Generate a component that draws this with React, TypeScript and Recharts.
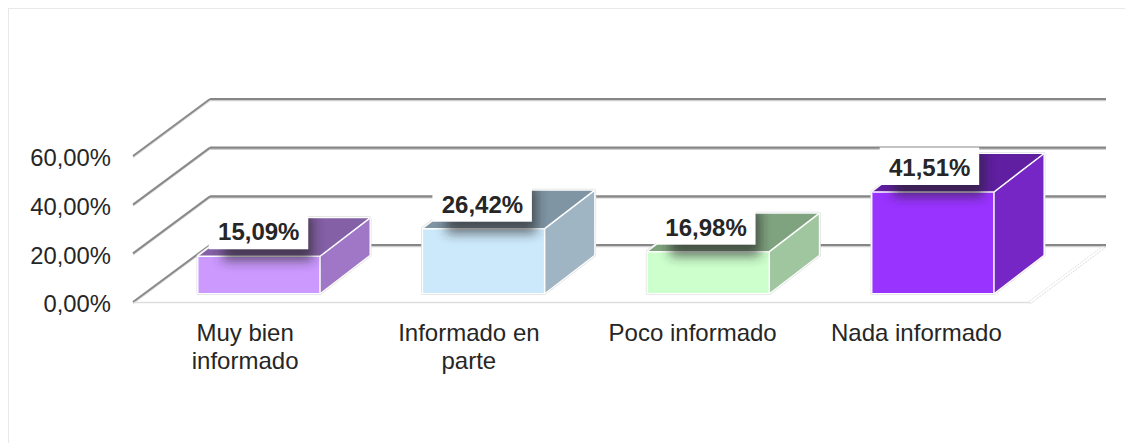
import React from "react";
import { BarChart, Bar, XAxis, YAxis, CartesianGrid, LabelList } from "recharts";

const categories = ["Muy bien informado", "Informado en parte", "Poco informado", "Nada informado"];
const categoryLines = [["Muy bien", "informado"], ["Informado en", "parte"], ["Poco informado"], ["Nada informado"]];
const values = [15.09, 26.42, 16.98, 41.51];
const yTicks = [0, 20, 40, 60];
const frontColors = ["#CC99FF", "#CCE9FB", "#CCFFCC", "#9933FF"];
const sideColors = ["#9F77C6", "#9FB5C4", "#9FC69F", "#7726C6"];
const topColors = ["#8460A6", "#7F95A4", "#7FA37F", "#5F1FA0"];

const data = categories.map((name, i) => ({ name, value: values[i], index: i }));

const FONT = "'Liberation Sans', Arial, sans-serif";
const TEXT = "#262626";
const WALL_DX = 77;
const WALL_DY = -57;
const BAR_DX = 14.5;
const BAR_STEP = 0.4;
const BAR_DY = -9;
const DEPTH_X = 49.5;
const DEPTH_Y = -38;
const fmt = (v: number) => v.toFixed(2).replace(".", ",") + "%";

function gridLine(props: any) {
  const { x1, x2, y1, index, y, height } = props;
  const isFloor = Math.abs(y1 - (y + height)) < 1;
  const bx1 = x1 + WALL_DX;
  const bx2 = x2 + WALL_DX - 1;
  const by = y1 + WALL_DY;
  return (
    <g key={`g-${index}`}>
      <line x1={x1} y1={y1 + 1.3} x2={bx1} y2={by + 1.3} stroke="#d8d8d8" strokeWidth={1.5} />
      <line x1={bx1} y1={by + 1.5} x2={bx2} y2={by + 1.5} stroke="#cfcfcf" strokeWidth={1.5} />
      <line x1={x1} y1={y1} x2={bx1} y2={by} stroke="#8a8a8a" strokeWidth={2} />
      <line x1={bx1} y1={by} x2={bx2} y2={by} stroke="#868686" strokeWidth={2.2} />
      {isFloor && (
        <g>
          <line x1={x1 + 1} y1={y1 + 0.6} x2={x2} y2={y1 + 0.6} stroke="#dedede" strokeWidth={1.5} />
          <line x1={x2} y1={y1 + 2} x2={bx2} y2={by + 2} stroke="#dcdcdc" strokeWidth={1} strokeDasharray="2 1" />
          <line x1={x2 - 3} y1={y1 + 1} x2={bx2 - 3} y2={by + 1} stroke="#e2e2e2" strokeWidth={1} strokeDasharray="2 1" />
        </g>
      )}
    </g>
  );
}

function pts(list: number[][]) {
  return list.map((p) => p.join(",")).join(" ");
}

function Bar3D(props: any) {
  const { x, y, width, height, index } = props;
  const l = x + BAR_DX + index * BAR_STEP;
  const r = l + width;
  const t = y + BAR_DY;
  const b = t + height;
  const silhouette = pts([[l, b], [r, b], [r + DEPTH_X, b + DEPTH_Y], [r + DEPTH_X, t + DEPTH_Y], [l + DEPTH_X, t + DEPTH_Y], [l, t]]);
  return (
    <g>
      <polygon points={silhouette} fill="#fff" stroke="#e0e0e0" strokeWidth={4} strokeLinejoin="round" />
      <polygon points={silhouette} fill="#fff" stroke="#ffffff" strokeWidth={2.5} strokeLinejoin="round" />
      <polygon points={pts([[l, t], [r, t], [r + DEPTH_X, t + DEPTH_Y], [l + DEPTH_X, t + DEPTH_Y]])} fill={topColors[index]} />
      <polygon points={pts([[r, t], [r + DEPTH_X, t + DEPTH_Y], [r + DEPTH_X, b + DEPTH_Y], [r, b]])} fill={sideColors[index]} />
      <rect x={l} y={t} width={width} height={height} fill={frontColors[index]} />
      <polyline points={pts([[l, t], [r, t], [r + DEPTH_X, t + DEPTH_Y]])} fill="none" stroke="#ffffff" strokeWidth={1.5} />
      <line x1={r} y1={t} x2={r} y2={b} stroke="#ffffff" strokeWidth={1.5} />
    </g>
  );
}

function ValueLabel(props: any) {
  const { x, y, width, height, value, index } = props;
  const l = x + BAR_DX + index * BAR_STEP;
  const r = l + width;
  const t = y + BAR_DY;
  const b = t + height;
  const cx = l + width / 2 - 0.5 - index;
  const cy = t - 24.5;
  const id = `clip-${index}`;
  const silhouette = pts([[l, b], [r, b], [r + DEPTH_X, b + DEPTH_Y], [r + DEPTH_X, t + DEPTH_Y], [l + DEPTH_X, t + DEPTH_Y], [l, t]]);
  return (
    <g>
      <defs>
        <clipPath id={id}>
          <polygon points={silhouette} />
        </clipPath>
      </defs>
      <g clipPath={`url(#${id})`}>
        <rect x={cx - 36} y={cy - 18} width={90} height={47} fill="#202020" opacity={0.62} filter="url(#labelBlur)" />
      </g>
      <rect x={cx - 50} y={cy - 20} width={99.5} height={37.5} fill="#ffffff" />
      <text x={cx} y={cy + 8.5} textAnchor="middle" fontFamily={FONT} fontWeight={700} fontSize={24} fill={TEXT}>
        {fmt(value)}
      </text>
    </g>
  );
}

function CategoryTick(props: any) {
  const { x, y, payload, index } = props;
  const i0 = payload.index ?? index;
  const lines = categoryLines[i0] ?? [payload.value];
  return (
    <g>
      {lines.map((ln: string, i: number) => (
        <text key={i} x={x - i0 * 0.5} y={y + 31 + i * 28} textAnchor="middle" fontFamily={FONT} fontSize={24} fill={TEXT}>
          {ln}
        </text>
      ))}
    </g>
  );
}

export default function App() {
  return (
    <div
      style={{
        width: 1125,
        height: 435,
        boxSizing: "border-box",
        borderTop: "1.5px solid #e8e8e8",
        borderLeft: "1.5px solid #e8e8e8",
        background: "#fff",
        overflow: "hidden",
      }}
    >
      <BarChart
        width={1124}
        height={434}
        data={data}
        barSize={121.5}
        margin={{ top: 147, right: 103, bottom: 0, left: 0 }}
      >
        <defs>
          <filter id="labelBlur" x="-30%" y="-40%" width="160%" height="180%">
            <feGaussianBlur stdDeviation="6" />
          </filter>
        </defs>
        <CartesianGrid horizontal={gridLine} vertical={false} />
        <XAxis dataKey="name" height={141} axisLine={false} tickLine={false} tick={CategoryTick} interval={0} />
        <YAxis
          width={124}
          domain={[0, 60]}
          ticks={yTicks}
          axisLine={false}
          tickLine={false}
          tickSize={0}
          tickMargin={22}
          tickFormatter={fmt}
          tick={{ fontFamily: FONT, fontSize: 23.8, fill: TEXT, dy: 2 }}
        />
        <Bar dataKey="value" isAnimationActive={false} shape={Bar3D}>
          <LabelList dataKey="value" content={ValueLabel} />
        </Bar>
      </BarChart>
    </div>
  );
}
